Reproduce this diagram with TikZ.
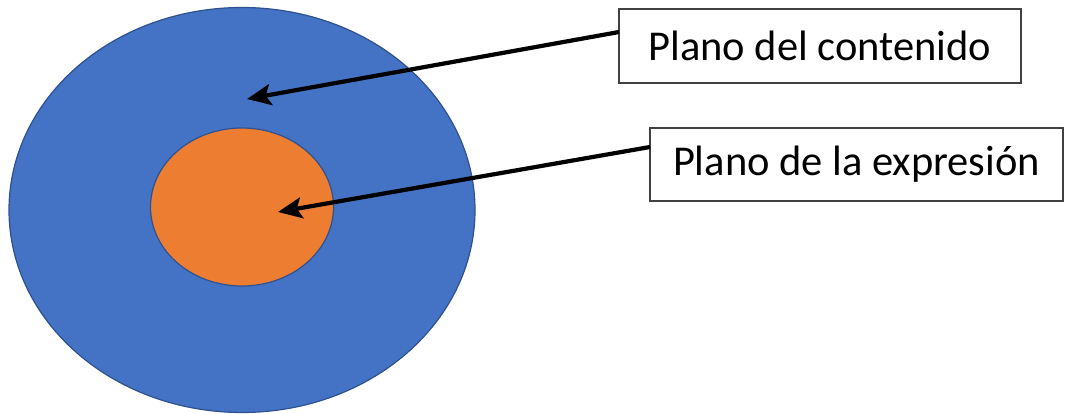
\documentclass[tikz,border=0pt]{standalone}
\usepackage{fontspec}
\setmainfont{Carlito}
\usetikzlibrary{shapes.geometric,arrows.meta}
\definecolor{outerblue}{HTML}{4472C4}
\definecolor{innerorange}{HTML}{ED7D31}
\definecolor{rimblue}{HTML}{2F528F}
\definecolor{boxrim}{HTML}{404040}
\tikzset{
  disc/.style={ellipse, draw=rimblue, line width=1.2pt, inner sep=0pt},
  labelbox/.style={rectangle, draw=boxrim, line width=1.3pt, fill=white,
    inner sep=0pt, font=\fontsize{42.5}{48}\selectfont, text=black},
  pointer/.style={line width=4.2pt, black,
    -{Stealth[length=24pt, width=21pt, inset=5pt]}}
}
\begin{document}
\begin{tikzpicture}[x=1pt, y=-1pt]
  \useasboundingbox (0,0) rectangle (1065,414);
  % the two planes
  \node[disc, fill=outerblue, minimum width=466pt, minimum height=405pt] (outer) at (242,210) {};
  \node[disc, fill=innerorange, minimum width=183pt, minimum height=158pt] (inner) at (242,207) {};
  % labels
  \node[labelbox, minimum width=402pt, minimum height=74pt] (content) at (820,46) {Plano del contenido};
  \node[labelbox, minimum width=413pt, minimum height=73pt] (expr) at (856.5,164.5) {Plano de la expresión};
  % arrow ends
  \coordinate (contentfoot) at (619,32);
  \coordinate (exprfoot) at (650,147);
  \coordinate (contenttip) at (247,99);
  \coordinate (exprtip) at (278,212);
  \draw[pointer] (contentfoot) -- (contenttip);
  \draw[pointer] (exprfoot) -- (exprtip);
\end{tikzpicture}
\end{document}
